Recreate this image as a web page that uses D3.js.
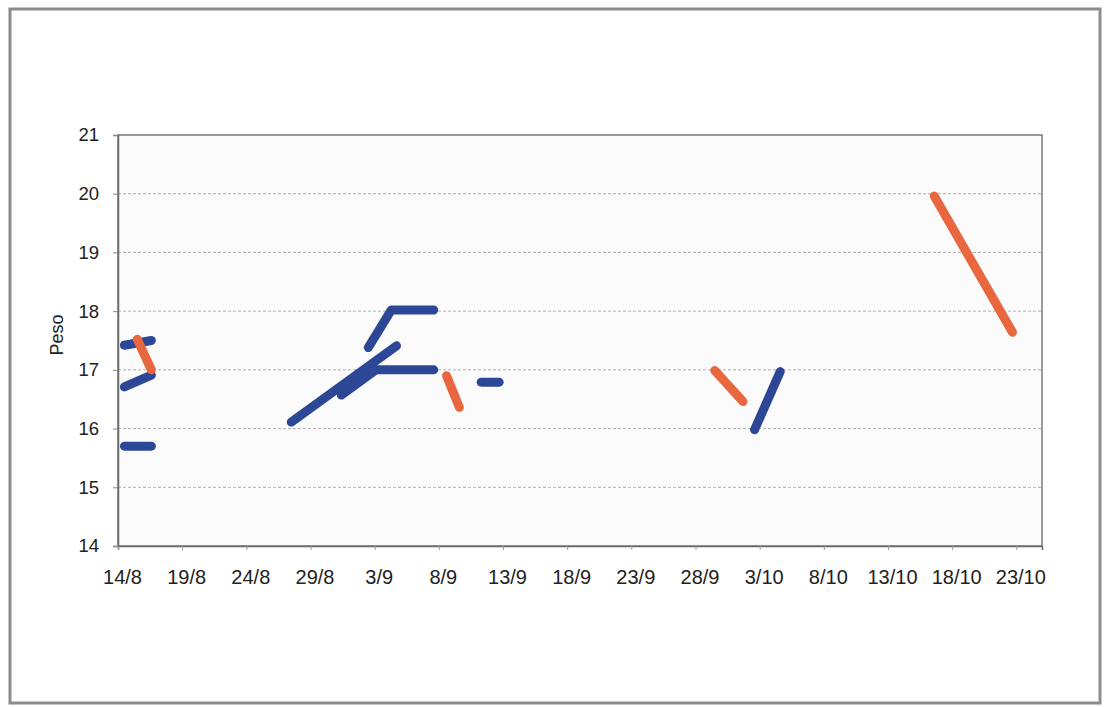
<!DOCTYPE html>
<html><head><meta charset="utf-8">
<script src="https://cdn.jsdelivr.net/npm/d3@7"></script>
<style>body{margin:0;background:#fff}svg{display:block}text{font-family:"Liberation Sans",Arial,sans-serif;fill:#222}</style>
</head><body><svg id="c" width="1104" height="707"></svg>
<script>
// x values are days after 14/8 (fractional), y values are "Peso"
const startDate = Date.UTC(2007, 7, 14);
const endDay = 72;
const yTicks = [14, 15, 16, 17, 18, 19, 20, 21];
const xTickLabels = ["14/8","19/8","24/8","29/8","3/9","8/9","13/9","18/9","23/9","28/9","3/10","8/10","13/10","18/10","23/10"];
const xTickDays = [0,5,10,15,20,25,30,35,40,45,50,55,60,65,70];

const blueA = [[0.5,17.42],[2.6,17.5]];
const blueB = [[0.5,16.71],[2.6,16.91]];
const blueC = [[0.5,15.7],[2.6,15.7]];
const blueD = [[13.5,16.11],[21.7,17.41]];
const blueE = [[17.4,16.57],[20.1,17.0],[24.6,17.0]];
const blueF = [[19.5,17.38],[21.3,18.02],[24.6,18.02]];
const blueG = [[28.3,16.79],[29.7,16.79]];
const blueH = [[49.6,15.98],[51.6,16.97]];
const orangeA = [[1.5,17.52],[2.6,17.0]];
const orangeB = [[25.6,16.9],[26.6,16.36]];
const orangeC = [[46.5,16.99],[48.7,16.46]];
const orangeD = [[63.6,19.96],[69.7,17.64]];

const blueSeries = [blueA, blueB, blueC, blueD, blueE, blueF, blueG, blueH];
const orangeSeries = [orangeA, orangeB, orangeC, orangeD];

const dayToDate = d => new Date(startDate + d * 86400000);
const svg = d3.select("#c");
const L = 118, R = 1042, T = 135, B = 546;
const x = d3.scaleUtc().domain([dayToDate(0), dayToDate(endDay)]).range([L, R]);
const y = d3.scaleLinear().domain([14, 21]).range([B, T]);

// outer frame
svg.append("rect").attr("x", 10).attr("y", 9).attr("width", 1090).attr("height", 694)
  .attr("fill", "none").attr("stroke", "#8c8c8c").attr("stroke-width", 3);

// plot area
svg.append("rect").attr("x", L).attr("y", T).attr("width", R - L).attr("height", B - T)
  .attr("fill", "#fbfbfb");

// gridlines
svg.append("g").selectAll("line").data(yTicks.filter(v => v > 14 && v < 21)).join("line")
  .attr("x1", L).attr("x2", R).attr("y1", d => y(d)).attr("y2", d => y(d))
  .attr("stroke", "#b0b0b0").attr("stroke-width", 1).attr("stroke-dasharray", "3,2");

svg.append("rect").attr("x", L).attr("y", T).attr("width", R - L).attr("height", B - T)
  .attr("fill", "none").attr("stroke", "#7a7a7a").attr("stroke-width", 1.5);

// y axis
const yAxis = svg.append("g").attr("transform", `translate(${L},0)`)
  .call(d3.axisLeft(y).tickValues(yTicks).tickSize(5).tickPadding(14).tickFormat(d3.format("d")));
yAxis.select(".domain").attr("stroke", "#6a6a6a").attr("stroke-width", 1.5);
yAxis.selectAll(".tick line").attr("stroke", "#888");
yAxis.selectAll("text").attr("font-size", 18.5).attr("fill", "#222");

// x axis
const xAxis = svg.append("g").attr("transform", `translate(0,${B})`)
  .call(d3.axisBottom(x).tickValues(xTickDays.map(dayToDate)).tickSize(4).tickPadding(20)
    .tickFormat((d, i) => xTickLabels[i]));
xAxis.select(".domain").attr("stroke", "#6a6a6a").attr("stroke-width", 1.5);
xAxis.selectAll(".tick line").attr("stroke", "#999");
xAxis.selectAll("text").attr("font-size", 20).attr("fill", "#222").attr("dx", 4);

// y label
svg.append("text").attr("transform", "translate(63,335) rotate(-90)")
  .attr("text-anchor", "middle").attr("font-size", 18).text("Peso");

const line = d3.line().x(d => x(dayToDate(d[0]))).y(d => y(d[1]));
svg.append("g").selectAll("path").data(blueSeries).join("path")
  .attr("d", line).attr("fill", "none").attr("stroke", "#2c4795").attr("stroke-width", 9)
  .attr("stroke-linecap", "round").attr("stroke-linejoin", "round");
svg.append("g").selectAll("path").data(orangeSeries).join("path")
  .attr("d", line).attr("fill", "none").attr("stroke", "#e8673f").attr("stroke-width", 9)
  .attr("stroke-linecap", "round").attr("stroke-linejoin", "round");
</script></body></html>
